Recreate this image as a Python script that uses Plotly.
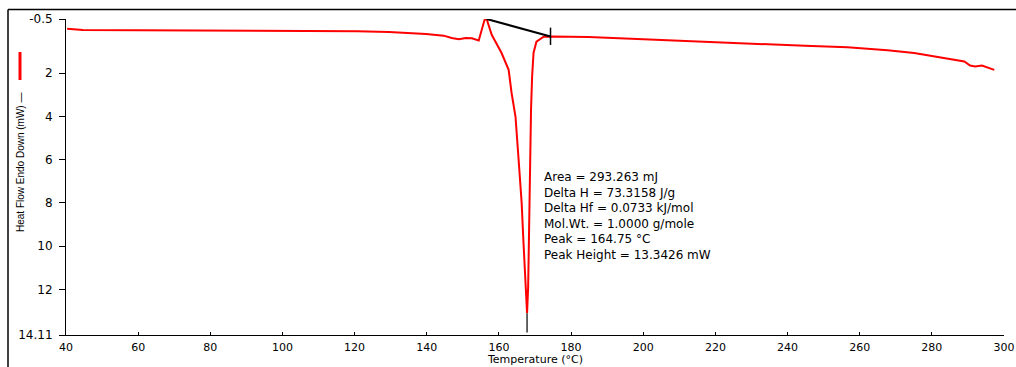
import plotly.graph_objects as go

# ---- data ----
temp_c = [40.3, 44.7, 60.0, 80.0, 99.7, 120.7, 129.5, 139.8, 144.7, 146.9, 148.9, 150.8,
          152.5, 154.4, 155.2, 156.0, 156.6, 158.0, 160.7, 162.7, 163.5, 164.6, 165.4,
          166.0, 166.3, 166.8, 167.4, 167.8, 168.1, 168.4, 168.6, 168.9, 169.2, 169.6,
          170.4, 172.4, 174.3, 184.8, 196.7, 207.7, 219.9, 230.9, 244.8, 256.6, 267.7,
          275.1, 284.3, 289.0, 290.6, 292.0, 293.9, 295.3, 297.3]
heat_flow_mw = [-0.05, 0.01, 0.02, 0.03, 0.04, 0.07, 0.10, 0.19, 0.27, 0.38, 0.44, 0.38,
                0.39, 0.49, 0.02, -0.45, -0.50, 0.23, 1.06, 1.85, 2.91, 4.02, 5.87,
                7.08, 8.00, 9.81, 11.89, 13.10, 11.90, 8.70, 5.55, 3.70, 2.17, 1.06,
                0.55, 0.32, 0.31, 0.33, 0.41, 0.49, 0.56, 0.64, 0.74, 0.81, 0.94,
                1.07, 1.31, 1.46, 1.65, 1.69, 1.65, 1.74, 1.85]

baseline_t = [156.6, 174.3]
baseline_v = [-0.50, 0.31]
end_tick_t = [174.3, 174.3]
end_tick_v = [-0.10, 0.70]
peak_mark_t = [167.8, 167.8]
peak_mark_v = [13.10, 14.00]

x_ticks = [40, 60, 80, 100, 120, 140, 160, 180, 200, 220, 240, 260, 280, 300]
y_ticks = [-0.5, 2, 4, 6, 8, 10, 12, 14.11]
y_tick_text = ["-0.5", "2", "4", "6", "8", "10", "12", "14.11"]

result_lines = [
    "Area = 293.263 mJ",
    "Delta H = 73.3158 J/g",
    "Delta Hf = 0.0733 kJ/mol",
    "Mol.Wt. = 1.0000 g/mole",
    "Peak = 164.75 °C",
    "Peak Height = 13.3426 mW",
]

# ---- layout constants ----
W, H = 1016, 367
ML, MR, MT, MB = 66, 12, 19, 32
PW, PH = W - ML - MR, H - MT - MB


def px_x(px):
    return (px - ML) / PW


def px_y(py):
    return (H - MB - py) / PH


fig = go.Figure()
fig.add_trace(go.Scatter(x=temp_c, y=heat_flow_mw, mode="lines",
                         line=dict(color="#ff0000", width=2), showlegend=False,
                         hoverinfo="skip"))
fig.add_trace(go.Scatter(x=baseline_t, y=baseline_v, mode="lines",
                         line=dict(color="#000000", width=2), showlegend=False))
fig.add_trace(go.Scatter(x=end_tick_t, y=end_tick_v, mode="lines",
                         line=dict(color="#000000", width=1.5), showlegend=False))
fig.add_trace(go.Scatter(x=peak_mark_t, y=peak_mark_v, mode="lines",
                         line=dict(color="#333333", width=1.5), showlegend=False))

fig.update_xaxes(range=[40, 300], tickvals=x_ticks, ticks="inside", ticklen=3,
                 tickcolor="#000000", showline=True, linecolor="#000000", linewidth=1,
                 showgrid=False, zeroline=False, automargin=False,
                 tickfont=dict(family="DejaVu Sans", size=11, color="#000000"),
                 ticklabeloverflow="allow", ticklabelstandoff=2)
fig.update_yaxes(range=[14.11, -0.5], tickvals=y_ticks, ticktext=y_tick_text,
                 ticks="outside", ticklen=6, tickcolor="#000000", showline=True,
                 linecolor="#000000", linewidth=1, showgrid=False, zeroline=False,
                 tickfont=dict(family="DejaVu Sans", size=12, color="#000000"),
                 ticklabelstandoff=4, automargin=False)

annotations = [
    dict(x=px_x(542), y=px_y(216), xref="paper", yref="paper",
         text="<br>".join(result_lines), showarrow=False, xanchor="left",
         yanchor="middle", align="left",
         font=dict(family="DejaVu Sans", size=12, color="#000000")),
    dict(x=px_x(20), y=px_y(163), xref="paper", yref="paper",
         text="Heat Flow Endo Down (mW) —", textangle=-90, showarrow=False,
         xanchor="center", yanchor="middle",
         font=dict(family="Liberation Sans", size=10, color="#000000")),
    dict(x=0.5, y=px_y(367), xref="paper", yref="paper",
         text="Temperature (°C)", showarrow=False, xanchor="center",
         yanchor="bottom", yshift=-1,
         font=dict(family="DejaVu Sans", size=11, color="#000000")),
]

shapes = [
    # legend swatch
    dict(type="line", xref="paper", yref="paper", x0=px_x(20), x1=px_x(20),
         y0=px_y(52), y1=px_y(80), line=dict(color="#ff0000", width=3)),
    # outer frame
    dict(type="line", xref="paper", yref="paper", x0=px_x(8), x1=px_x(1016),
         y0=px_y(9.5), y1=px_y(9.5), line=dict(color="#000000", width=1.5)),
    dict(type="line", xref="paper", yref="paper", x0=px_x(8), x1=px_x(8),
         y0=px_y(9.5), y1=px_y(367), line=dict(color="#000000", width=1.5)),
]

fig.update_layout(width=W, height=H, margin=dict(l=ML, r=MR, t=MT, b=MB),
                  paper_bgcolor="#ffffff", plot_bgcolor="#ffffff",
                  annotations=annotations, shapes=shapes, showlegend=False)

fig.write_html("out.html")
